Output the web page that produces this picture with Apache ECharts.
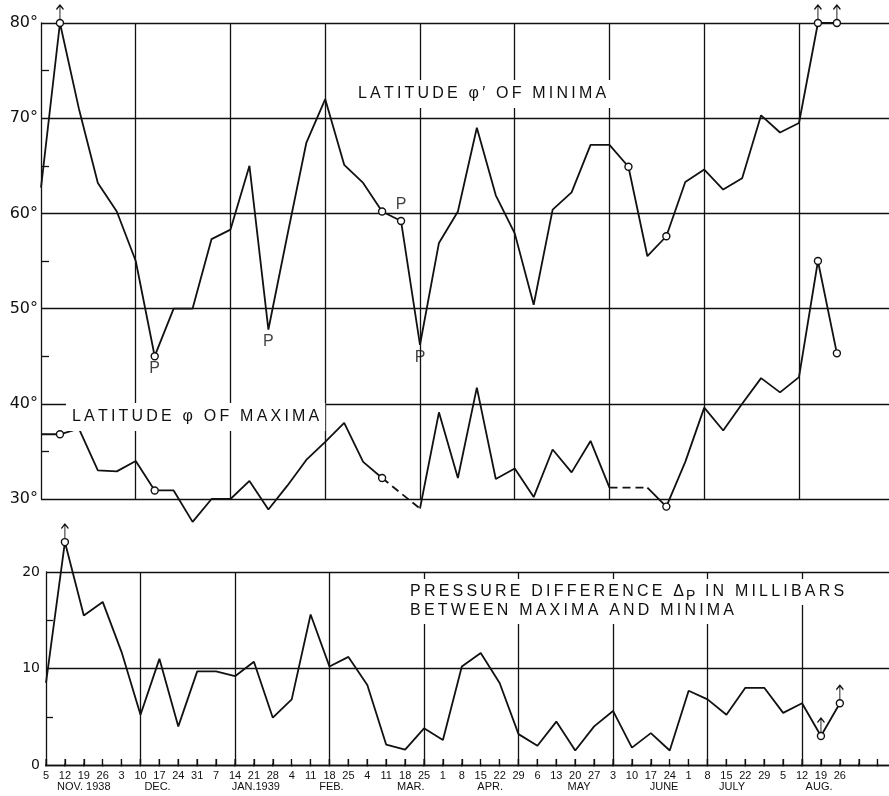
<!DOCTYPE html>
<html>
<head>
<meta charset="utf-8">
<script src="https://cdn.jsdelivr.net/npm/echarts@6/dist/echarts.min.js"></script>
<style>
  html, body { margin: 0; padding: 0; background: #fff; }
  #chart { width: 889px; height: 796px; }
</style>
</head>
<body>
<div id="chart"></div>
<script>
// Weekly observations, 5 Nov 1938 to 26 Aug 1939 (week index = position in these arrays)
const dayLabels = ['5','12','19','26','3','10','17','24','31','7','14','21','28','4','11','18','25',
  '4','11','18','25','1','8','15','22','29','6','13','20','27','3','10','17','24','1','8','15','22','29',
  '5','12','19','26'];
const monthNames = ['NOV. 1938','DEC.','JAN.1939','FEB.','MAR.','APR.','MAY','JUNE','JULY','AUG.'];
const monthCenters = [2.0, 5.9, 11.1, 15.1, 19.3, 23.5, 28.2, 32.7, 36.3, 40.9];
// week tick marks along the time axis (labelled weeks plus 2 and 9 Sept)
const weekTicks = [0,1,2,3,4,5,6,7,8,9,10,11,12,13,14,15,16,17,18,19,20,21,22,23,24,25,26,27,28,29,30,
  31,32,33,34,35,36,37,38,39,40,41,42,43,44];

// Latitude of minima (degrees)
const minimaLat = [62.7, 80, 71, 63.2, 60.2, 55, 45, 50, 50, 57.3, 58.3, 65, 47.8, 57.7, 67.4, 72, 65.1,
  63.2, 60.2, 59.2, 46.2, 56.9, 60.2, 69, 61.9, 57.9, 50.4, 60.4, 62.2, 67.2, 67.2, 64.9, 55.5, 57.6,
  63.3, 64.6, 62.5, 63.7, 70.3, 68.5, 69.5, 80, 80];
// Latitude of maxima (degrees); null = week without a value
const maximaLat = [36.8, 36.8, 37.4, 33.0, 32.9, 34.0, 30.9, 30.9, 27.6, 30.0, 30.0, 31.9, 28.9, 31.4,
  34.1, 36.0, 38.0, 33.9, 32.2, null, 29.0, 39.1, 32.2, 41.7, 32.1, 33.2, 30.2, 35.2, 32.8, 36.1, 31.2,
  null, 31.2, 29.2, 33.9, 39.6, 37.2, 40.0, 42.7, 41.2, 42.8, 55.0, 45.3];
// Pressure difference between maxima and minima (millibars)
const pressureDiff = [8.5, 23.1, 15.5, 16.9, 11.7, 5.2, 11.0, 4.0, 9.7, 9.7, 9.2, 10.7, 4.9, 6.8, 15.6,
  10.2, 11.2, 8.3, 2.1, 1.6, 3.8, 2.6, 10.2, 11.6, 8.5, 3.2, 2.0, 4.5, 1.5, 4.0, 5.6, 1.8, 3.3, 1.5,
  7.7, 6.8, 5.2, 8.0, 8.0, 5.4, 6.4, 3.0, 6.4];

// Weeks marked with open circles, upward arrows (off scale) and "P"
const minimaCircled = [1, 6, 18, 19, 31, 33, 41, 42];
const maximaCircled = [1, 6, 18, 33, 41, 42];
const pressureCircled = [1, 41, 42];
const minimaArrows = [1, 41, 42];
const pressureArrows = [1, 41, 42];
const maximaGaps = [19, 31];
const pBelow = [6, 12, 20];
const pAbove = [19];

const INK = '#111';
const SANS = '"Liberation Sans", Arial, sans-serif';
const DEJA = '"DejaVu Sans", sans-serif';

const spaced = s => s.split('').join('\u2009');
const pts = (arr, idx) => idx.map(i => [i, arr[i]]);
const series2d = arr => arr.map((v, i) => [i, v == null ? '-' : v]);

const gapData = [];
maximaGaps.forEach(g => {
  gapData.push([g - 1, maximaLat[g - 1]], [g + 1, maximaLat[g + 1]], [g + 1, '-']);
});

const gridLine = { color: INK, width: 1.3 };
const lineBase = {
  type: 'line', symbol: 'none', clip: false, silent: true,
  lineStyle: { color: INK, width: 1.8 }, z: 3
};
const circleBase = {
  type: 'scatter', symbol: 'circle', symbolSize: 7, clip: false, silent: true, z: 5,
  itemStyle: { color: '#fff', borderColor: INK, borderWidth: 1.4, opacity: 1 }
};
const arrowBase = {
  type: 'scatter', symbol: 'path://M4,0L4,16M0,5L4,0L8,5', symbolSize: [7, 14],
  symbolOffset: [0, -11], clip: false, silent: true, z: 4,
  itemStyle: { color: 'rgba(0,0,0,0)', borderColor: INK, borderWidth: 1.3, opacity: 1 }
};
const pLabel = (pos, dist) => ({
  type: 'scatter', symbolSize: 1, clip: false, silent: true, z: 6,
  itemStyle: { color: 'rgba(0,0,0,0)' },
  label: { show: true, formatter: 'P', position: pos, distance: dist,
           fontFamily: SANS, fontSize: 16, color: INK }
});

const titleStyle = { fontFamily: SANS, fontSize: 16, fontWeight: 'normal', color: INK };

const option = {
  animation: false,
  backgroundColor: '#fff',
  title: [
    { text: spaced('LATITUDE φ′ OF MINIMA'), left: 352, top: 80, padding: [6, 6],
      backgroundColor: '#fff', textStyle: titleStyle },
    { text: spaced('LATITUDE φ OF MAXIMA'), left: 66, top: 403, padding: [6, 6],
      backgroundColor: '#fff', textStyle: titleStyle },
    { text: spaced('PRESSURE DIFFERENCE Δ') + '{sub|P}' + spaced(' IN MILLIBARS'),
      left: 404, top: 576, padding: [5, 6, 2, 6], backgroundColor: '#fff',
      textStyle: Object.assign({}, titleStyle, {
        rich: { sub: { fontFamily: SANS, fontSize: 14, color: INK, padding: [8, 2, 0, 2] } }
      }) },
    { text: spaced('BETWEEN MAXIMA AND MINIMA'), left: 404, top: 600, padding: [3, 6, 5, 6],
      backgroundColor: '#fff', textStyle: titleStyle }
  ],
  grid: [
    { left: 41, right: 0, top: 23, height: 476 },
    { left: 46, right: 0, top: 572, height: 193 }
  ],
  xAxis: [
    { gridIndex: 0, type: 'value', min: 0, max: 44.75, interval: 5,
      axisLine: { show: false }, axisTick: { show: false }, axisLabel: { show: false },
      splitLine: { show: true, showMinLine: false, showMaxLine: false, lineStyle: gridLine } },
    // day-of-month labels and week ticks
    { gridIndex: 1, type: 'value', min: 0, max: 44.6, interval: 5, position: 'bottom',
      axisLine: { show: true, onZero: false, lineStyle: gridLine },
      axisTick: { show: true, inside: true, length: 6, customValues: weekTicks, lineStyle: gridLine },
      axisLabel: { customValues: dayLabels.map((d, i) => i), margin: 5,
                   formatter: v => dayLabels[Math.round(v)] || '',
                   fontFamily: SANS, fontSize: 11, color: INK },
      splitLine: { show: false } },
    // month names and the five-week grid lines
    { gridIndex: 1, type: 'value', min: 0, max: 44.6, interval: 5, position: 'bottom',
      axisLine: { show: false, onZero: false }, axisTick: { show: false },
      splitLine: { show: true, showMinLine: false, showMaxLine: false, lineStyle: gridLine },
      axisLabel: { customValues: monthCenters, margin: 16,
                   formatter: v => {
                     let best = 0;
                     monthCenters.forEach((c, k) => {
                       if (Math.abs(c - v) < Math.abs(monthCenters[best] - v)) best = k;
                     });
                     return monthNames[best];
                   },
                   fontFamily: SANS, fontSize: 11, color: INK } }
  ],
  yAxis: [
    { gridIndex: 0, type: 'value', min: 30, max: 80, interval: 10,
      axisLine: { show: true, lineStyle: gridLine },
      axisTick: { show: false, inside: true },
      minorTick: { show: true, splitNumber: 2, length: 8, lineStyle: gridLine },
      minorSplitLine: { show: false },
      axisLabel: { formatter: '{value}°', fontFamily: DEJA, fontSize: 16, color: INK, margin: 3 },
      splitLine: { show: true, lineStyle: gridLine } },
    { gridIndex: 1, type: 'value', min: 0, max: 20, interval: 10,
      axisLine: { show: true, lineStyle: gridLine },
      axisTick: { show: false, inside: true },
      minorTick: { show: true, splitNumber: 2, length: 7, lineStyle: gridLine },
      minorSplitLine: { show: false },
      axisLabel: { fontFamily: DEJA, fontSize: 14, color: INK, margin: 6 },
      splitLine: { show: true, lineStyle: gridLine } }
  ],
  series: [
    Object.assign({}, lineBase, { name: 'minima', xAxisIndex: 0, yAxisIndex: 0, data: series2d(minimaLat) }),
    Object.assign({}, lineBase, { name: 'maxima', xAxisIndex: 0, yAxisIndex: 0, data: series2d(maximaLat) }),
    Object.assign({}, lineBase, { name: 'maxima gaps', xAxisIndex: 0, yAxisIndex: 0, data: gapData,
      lineStyle: { color: INK, width: 1.8, type: [8, 5] } }),
    Object.assign({}, lineBase, { name: 'pressure', xAxisIndex: 1, yAxisIndex: 1, data: series2d(pressureDiff) }),

    // weekly tick marks standing on the time axis
    { type: 'scatter', name: 'week ticks', xAxisIndex: 1, yAxisIndex: 1, silent: true, clip: false, z: 4,
      symbol: 'path://M0,0L0,10L1,10', symbolSize: [1, 6], symbolOffset: [0, -3], symbolKeepAspect: false,
      itemStyle: { color: 'rgba(0,0,0,0)', borderColor: INK, borderWidth: 1.3, opacity: 1 },
      data: weekTicks.map(w => [w, 0]) },

    Object.assign({}, circleBase, { xAxisIndex: 0, yAxisIndex: 0, data: pts(minimaLat, minimaCircled) }),
    Object.assign({}, circleBase, { xAxisIndex: 0, yAxisIndex: 0, data: pts(maximaLat, maximaCircled) }),
    Object.assign({}, circleBase, { xAxisIndex: 1, yAxisIndex: 1, data: pts(pressureDiff, pressureCircled) }),

    Object.assign({}, arrowBase, { xAxisIndex: 0, yAxisIndex: 0, data: pts(minimaLat, minimaArrows) }),
    Object.assign({}, arrowBase, { xAxisIndex: 1, yAxisIndex: 1, data: pts(pressureDiff, pressureArrows) }),

    Object.assign({}, pLabel('bottom', 4), { xAxisIndex: 0, yAxisIndex: 0, data: pts(minimaLat, pBelow) }),
    Object.assign({}, pLabel('top', 8), { xAxisIndex: 0, yAxisIndex: 0, data: pts(minimaLat, pAbove) })
  ]
};

const chart = echarts.init(document.getElementById('chart'), null, { renderer: 'canvas' });
chart.setOption(option);
</script>
</body>
</html>
